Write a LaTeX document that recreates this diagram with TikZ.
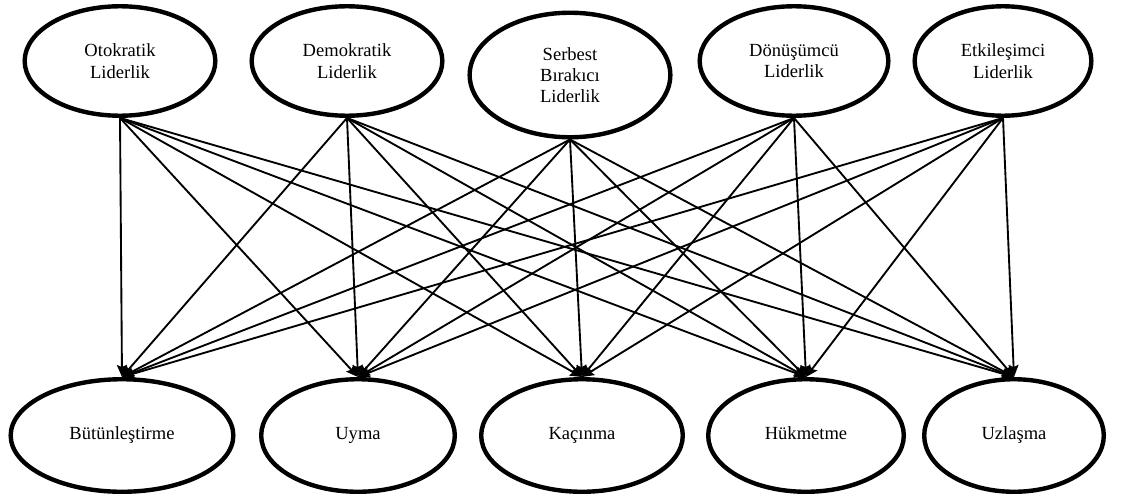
\documentclass[tikz,border=0pt]{standalone}
\usepackage{fontspec}
\setmainfont{Liberation Serif}
\usetikzlibrary{shapes.geometric,arrows.meta}
\begin{document}
\begin{tikzpicture}[x=0.75pt,y=-0.75pt,
  oval/.style={ellipse,draw,line width=3.3pt,inner sep=0pt,align=center,
    font=\fontsize{13.9}{16}\selectfont},
  topoval/.style={oval,minimum height=82.1pt},
  botoval/.style={oval,minimum height=84.4pt,text height=9.5pt,text depth=3pt},
  link/.style={line width=1.4pt,-{Stealth[length=9pt,width=7.5pt,inset=1.5pt]}}]
\useasboundingbox (0,0) rectangle (1123,496);

% leadership styles
\node[topoval,minimum width=143pt] (oto) at (120,61) {Otokratik\\Liderlik};
\node[topoval,minimum width=143pt] (dem) at (347,61) {Demokratik\\Liderlik};
\node[oval,minimum width=150.5pt,minimum height=93.4pt] (ser) at (570,75) {Serbest\\Bırakıcı\\Liderlik};
\node[topoval,minimum width=141.5pt] (don) at (794,61) {Dönüşümcü\\Liderlik};
\node[topoval,minimum width=132.5pt] (etk) at (1003,61) {Etkileşimci\\Liderlik};

% conflict handling styles
\node[botoval,minimum width=167pt] (but) at (122,435.5) {Bütünleştirme};
\node[botoval,minimum width=145.2pt] (uym) at (358,435.5) {Uyma};
\node[botoval,minimum width=151.2pt] (kac) at (582,435.5) {Kaçınma};
\node[botoval,minimum width=146.7pt] (huk) at (806,435.5) {Hükmetme};
\node[botoval,minimum width=134.7pt] (uzl) at (1014,435.5) {Uzlaşma};

% every leadership style points to every conflict style
\foreach \a in {oto,dem,ser,don,etk}
  \foreach \b in {but,uym,kac,huk,uzl}
    \draw[link] (\a.south) -- (\b.north);
\end{tikzpicture}
\end{document}
